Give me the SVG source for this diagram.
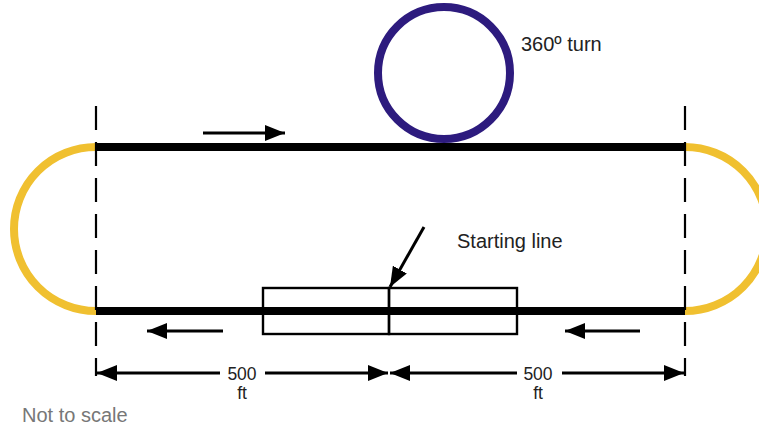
<svg xmlns="http://www.w3.org/2000/svg" width="759" height="427" viewBox="0 0 759 427">
<style>
.track{stroke:#000;stroke-width:8;fill:none}
.curve{stroke:#f0c030;stroke-width:8;fill:none}
.dash{stroke:#000;stroke-width:2.2;stroke-dasharray:24 12;fill:none}
.box{stroke:#000;stroke-width:2.4;fill:none}
.ln{stroke:#000;stroke-width:3;fill:none}
.t{font-family:"Liberation Sans",Arial,sans-serif;fill:#222}
</style>
<defs>
<marker id="ah" viewBox="0 0 20 16" refX="20" refY="8" markerWidth="20" markerHeight="16" markerUnits="userSpaceOnUse" orient="auto-start-reverse">
<path d="M0,0 L20,8 L0,16 Z" fill="#000"/>
</marker>
</defs>
<rect width="759" height="427" fill="#fff"/>
<g id="curves">
<path class="curve" d="M96,147 A82,82 0 0 0 96,311"/>
<path class="curve" d="M685,147 A82,82 0 0 1 685,311"/>
</g>
<g id="loop">
<circle cx="444" cy="73" r="66" stroke="#2d1b7e" stroke-width="8" fill="none"/>
<text class="t" x="521" y="51" font-size="20">360º turn</text>
</g>
<g id="track">
<line class="track" x1="96" y1="147" x2="685" y2="147"/>
<line class="track" x1="96" y1="311" x2="685" y2="311"/>
</g>
<g id="boxes">
<rect class="box" x="263" y="288" width="126" height="46"/>
<rect class="box" x="389" y="288" width="128" height="46"/>
</g>
<g id="dashes">
<line class="dash" x1="96" y1="106" x2="96" y2="376"/>
<line class="dash" x1="685" y1="106" x2="685" y2="376"/>
</g>
<g id="connectors">
<line class="ln" x1="203" y1="133" x2="285" y2="133" marker-end="url(#ah)"/>
<line class="ln" x1="223" y1="331" x2="147" y2="331" marker-end="url(#ah)"/>
<line class="ln" x1="640" y1="331" x2="565" y2="331" marker-end="url(#ah)"/>
<line class="ln" x1="424" y1="227" x2="390" y2="287" marker-end="url(#ah)"/>
<line class="ln" x1="220" y1="373" x2="97" y2="373" marker-end="url(#ah)"/>
<line class="ln" x1="265" y1="373" x2="388" y2="373" marker-end="url(#ah)"/>
<line class="ln" x1="517" y1="373" x2="390" y2="373" marker-end="url(#ah)"/>
<line class="ln" x1="562" y1="373" x2="684" y2="373" marker-end="url(#ah)"/>
</g>
<g id="labels">
<text class="t" x="457" y="248" font-size="20">Starting line</text>
<text class="t" x="242" y="380" font-size="17.5" text-anchor="middle">500</text>
<text class="t" x="242" y="399" font-size="17.5" text-anchor="middle">ft</text>
<text class="t" x="538" y="380" font-size="17.5" text-anchor="middle">500</text>
<text class="t" x="538" y="399" font-size="17.5" text-anchor="middle">ft</text>
<text x="22" y="422" font-size="20" font-family="Liberation Sans,Arial,sans-serif" fill="#777">Not to scale</text>
</g>
</svg>
